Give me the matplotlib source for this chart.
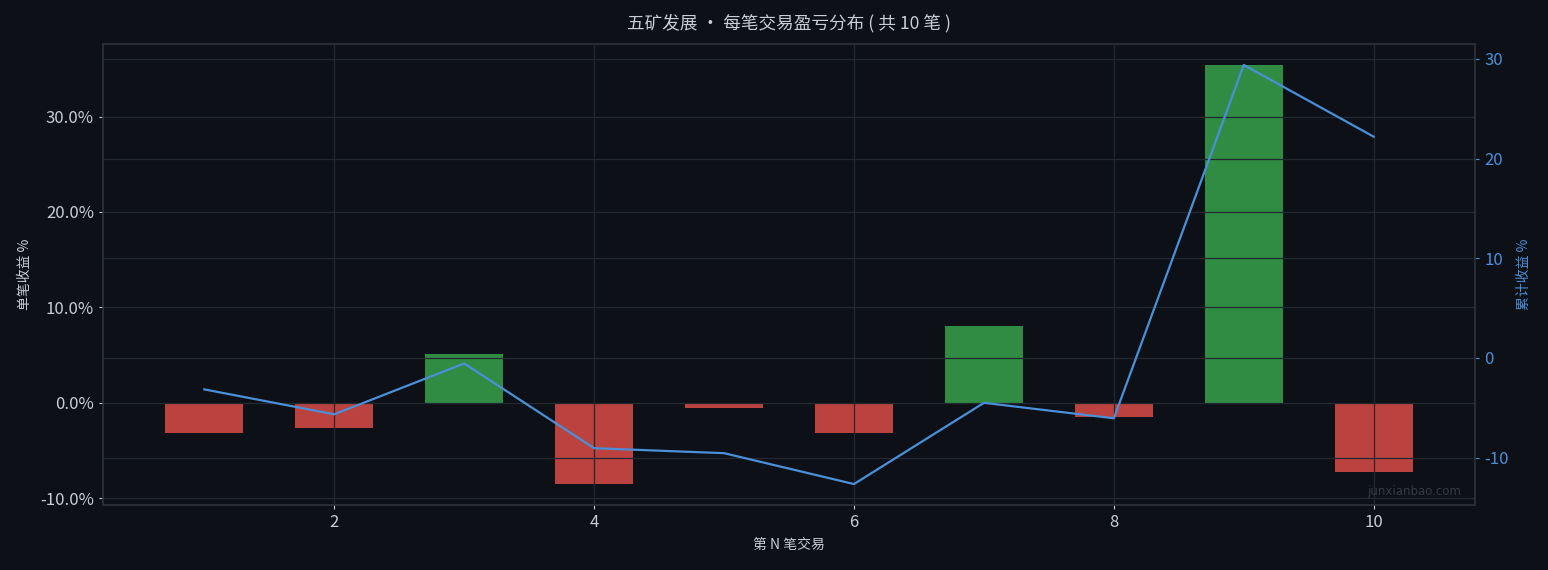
import matplotlib
matplotlib.use("Agg")
import matplotlib.pyplot as plt
from matplotlib.ticker import FuncFormatter, MultipleLocator

plt.rcParams['font.family'] = ['Noto Sans CJK SC', 'DejaVu Sans']
plt.rcParams['axes.unicode_minus'] = False

trade_no = [1, 2, 3, 4, 5, 6, 7, 8, 9, 10]
trade_ret = [-3.1, -2.6, 5.1, -8.5, -0.5, -3.1, 8.1, -1.5, 35.4, -7.2]
cum_ret = [-3.15, -5.65, -0.55, -9.05, -9.55, -12.65, -4.5, -6.05, 29.4, 22.2]

title = "五矿发展 · 每笔交易盈亏分布 ( 共 10 笔 )"
xlabel = "第 N 笔交易"
ylabel_left = "单笔收益 %"
ylabel_right = "累计收益 %"
watermark = "junxianbao.com"

BG = '#0d1017'
GRID = '#242831'
SPINE = '#2a2e37'
TXT = '#c9cdd4'
BLUE = '#4a90d9'
GREEN = '#2f8c42'
RED = '#bb423e'

fig = plt.figure(figsize=(15.48, 5.70), dpi=100, facecolor=BG)
ax = fig.add_axes([0.0665, 0.114, 0.8864, 0.8088])
ax.set_facecolor(BG)

colors = [GREEN if v > 0 else RED for v in trade_ret]
ax.bar(trade_no, trade_ret, width=0.6, color=colors, linewidth=0, zorder=1)
ax.set_axisbelow(False)
ax.grid(True, color=GRID, linewidth=0.9, zorder=3)
ax.xaxis.set_major_locator(MultipleLocator(2))
ax.yaxis.set_major_locator(MultipleLocator(10))
ax.yaxis.set_major_formatter(FuncFormatter(lambda v, p: f"{v:.1f}%"))
ax.tick_params(colors=TXT, labelsize=12, length=3, width=0.8)
ax.set_xlabel(xlabel, color=TXT, fontsize=10, labelpad=5)
ax.set_ylabel(ylabel_left, color=TXT, fontsize=10, labelpad=6)
for s in ax.spines.values():
    s.set_color(SPINE)
    s.set_linewidth(1.2)

ax2 = ax.twinx()
ax2.plot(trade_no, cum_ret, color=BLUE, linewidth=1.6, zorder=4)
ax2.grid(True, axis='y', color=GRID, linewidth=0.9)
ax2.yaxis.set_major_locator(MultipleLocator(10))
ax2.tick_params(axis='y', colors=BLUE, labelsize=12, length=3, width=0.8)
ax2.set_ylabel(ylabel_right, color=BLUE, fontsize=10, labelpad=6)
for s in ax2.spines.values():
    s.set_color(SPINE)
    s.set_linewidth(1.2)

ax.set_title(title, color=TXT, fontsize=12.7, pad=11)
ax.text(0.99, 0.015, watermark, transform=ax.transAxes, ha='right', va='bottom',
        color='#363a44', fontsize=8.5, family=['DejaVu Sans'], zorder=5)

fig.savefig("out.png", dpi=100, facecolor=BG)
